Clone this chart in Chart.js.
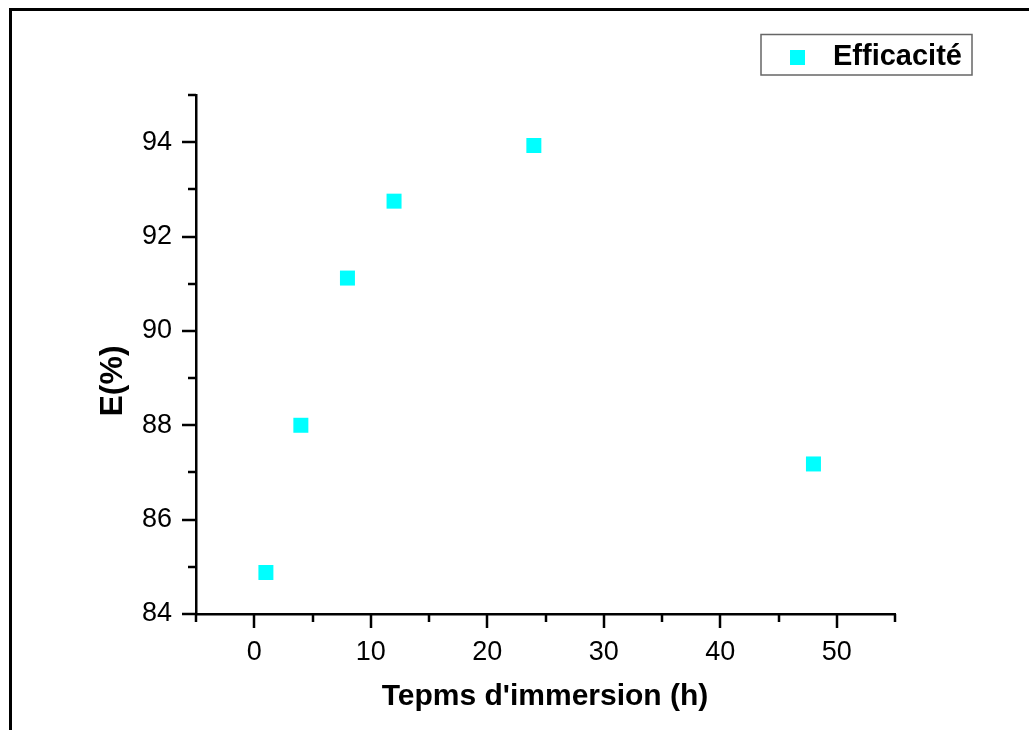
<!DOCTYPE html>
<html>
<head>
<meta charset="utf-8">
<script src="https://cdn.jsdelivr.net/npm/chart.js@4.4.1/dist/chart.umd.min.js"></script>
<style>
  html, body { margin: 0; padding: 0; background: #fff; }
  #wrap { width: 1029px; height: 730px; position: relative; }
</style>
</head>
<body>
<div id="wrap"><canvas id="c" width="1029" height="730"></canvas></div>
<script>
// Immersion time (h) and inhibition efficiency E(%)
const immersionHours = [1, 4, 8, 12, 24, 48];
const efficiency = [84.88, 88.0, 91.12, 92.75, 93.93, 87.18];
const seriesLabel = 'Efficacité';
const xTitle = "Tepms d'immersion (h)";
const yTitle = 'E(%)';
const xMajorTicks = [0, 10, 20, 30, 40, 50];
const yMajorTicks = [84, 86, 88, 90, 92, 94];

const FONT = '"Liberation Sans", Arial, sans-serif';
const MARKER = '#00ffff';

// Axis ticks (major/minor), page frame, axis titles and legend
const decorations = {
  id: 'decorations',
  beforeDraw(chart) {
    const ctx = chart.ctx;
    ctx.save();
    ctx.fillStyle = '#fff';
    ctx.fillRect(0, 0, chart.width, chart.height);
    ctx.strokeStyle = '#000';
    ctx.lineWidth = 3;
    ctx.beginPath();
    ctx.moveTo(10.5, chart.height + 5);
    ctx.lineTo(10.5, 9.5);
    ctx.lineTo(chart.width + 5, 9.5);
    ctx.stroke();
    ctx.restore();
  },
  afterDraw(chart) {
    const ctx = chart.ctx;
    const xs = chart.scales.x, ys = chart.scales.y;
    const area = chart.chartArea;
    ctx.save();
    ctx.strokeStyle = '#000';
    ctx.lineWidth = 2.5;
    ctx.lineCap = 'butt';
    // y ticks (outward, left)
    for (let v = ys.min; v <= ys.max + 1e-9; v += 1) {
      const y = Math.round(ys.getPixelForValue(v));
      const len = yMajorTicks.includes(v) ? 14 : 8;
      ctx.beginPath();
      ctx.moveTo(area.left, y);
      ctx.lineTo(area.left - len, y);
      ctx.stroke();
    }
    // x ticks (outward, down)
    for (let v = xs.min; v <= xs.max + 1e-9; v += 5) {
      const x = Math.round(xs.getPixelForValue(v));
      const len = xMajorTicks.includes(v) ? 14 : 8;
      ctx.beginPath();
      ctx.moveTo(x, area.bottom);
      ctx.lineTo(x, area.bottom + len);
      ctx.stroke();
    }
    // axis titles
    ctx.fillStyle = '#000';
    ctx.font = 'bold 30px ' + FONT;
    ctx.textAlign = 'center';
    ctx.textBaseline = 'middle';
    ctx.fillText(xTitle, 545, 697);
    ctx.save();
    ctx.translate(113, 381);
    ctx.rotate(-Math.PI / 2);
    ctx.font = 'bold 32px ' + FONT;
    ctx.fillText(yTitle, 0, 0);
    ctx.restore();
    // legend
    ctx.lineWidth = 1.5;
    ctx.strokeStyle = '#666';
    ctx.strokeRect(761, 34.5, 211, 40.5);
    ctx.fillStyle = MARKER;
    ctx.fillRect(790, 50, 15, 15);
    ctx.fillStyle = '#000';
    ctx.font = 'bold 29px ' + FONT;
    ctx.textAlign = 'left';
    ctx.textBaseline = 'alphabetic';
    ctx.fillText(seriesLabel, 833, 65);
    ctx.restore();
  }
};

new Chart(document.getElementById('c'), {
  type: 'scatter',
  data: {
    datasets: [{
      label: seriesLabel,
      data: immersionHours.map((h, i) => ({ x: h, y: efficiency[i] })),
      pointStyle: 'rect',
      pointRadius: 10.6,
      pointHoverRadius: 10.6,
      backgroundColor: MARKER,
      borderWidth: 0
    }]
  },
  options: {
    responsive: false,
    animation: false,
    devicePixelRatio: 1,
    layout: { padding: { left: 0, top: 95, right: 134, bottom: 0 } },
    plugins: { legend: { display: false }, tooltip: { enabled: false } },
    scales: {
      x: {
        type: 'linear',
        min: -5, max: 55,
        afterFit(s) { s.height = 116; },
        grid: { display: false, drawTicks: true, tickLength: 14 },
        border: { display: true, color: '#000', width: 2.5 },
        ticks: {
          stepSize: 5,
          padding: 8,
          color: '#000',
          font: { family: FONT, size: 27 },
          maxRotation: 0,
          autoSkip: false,
          callback: v => xMajorTicks.includes(v) ? String(v) : ''
        }
      },
      y: {
        type: 'linear',
        min: 84, max: 95,
        afterFit(s) { s.width = 196; },
        grid: { display: false, drawTicks: true, tickLength: 14 },
        border: { display: true, color: '#000', width: 2.5 },
        ticks: {
          stepSize: 1,
          padding: 10,
          color: '#000',
          font: { family: FONT, size: 27 },
          autoSkip: false,
          callback: v => yMajorTicks.includes(v) ? String(v) : ''
        }
      }
    }
  },
  plugins: [decorations]
});
</script>
</body>
</html>
